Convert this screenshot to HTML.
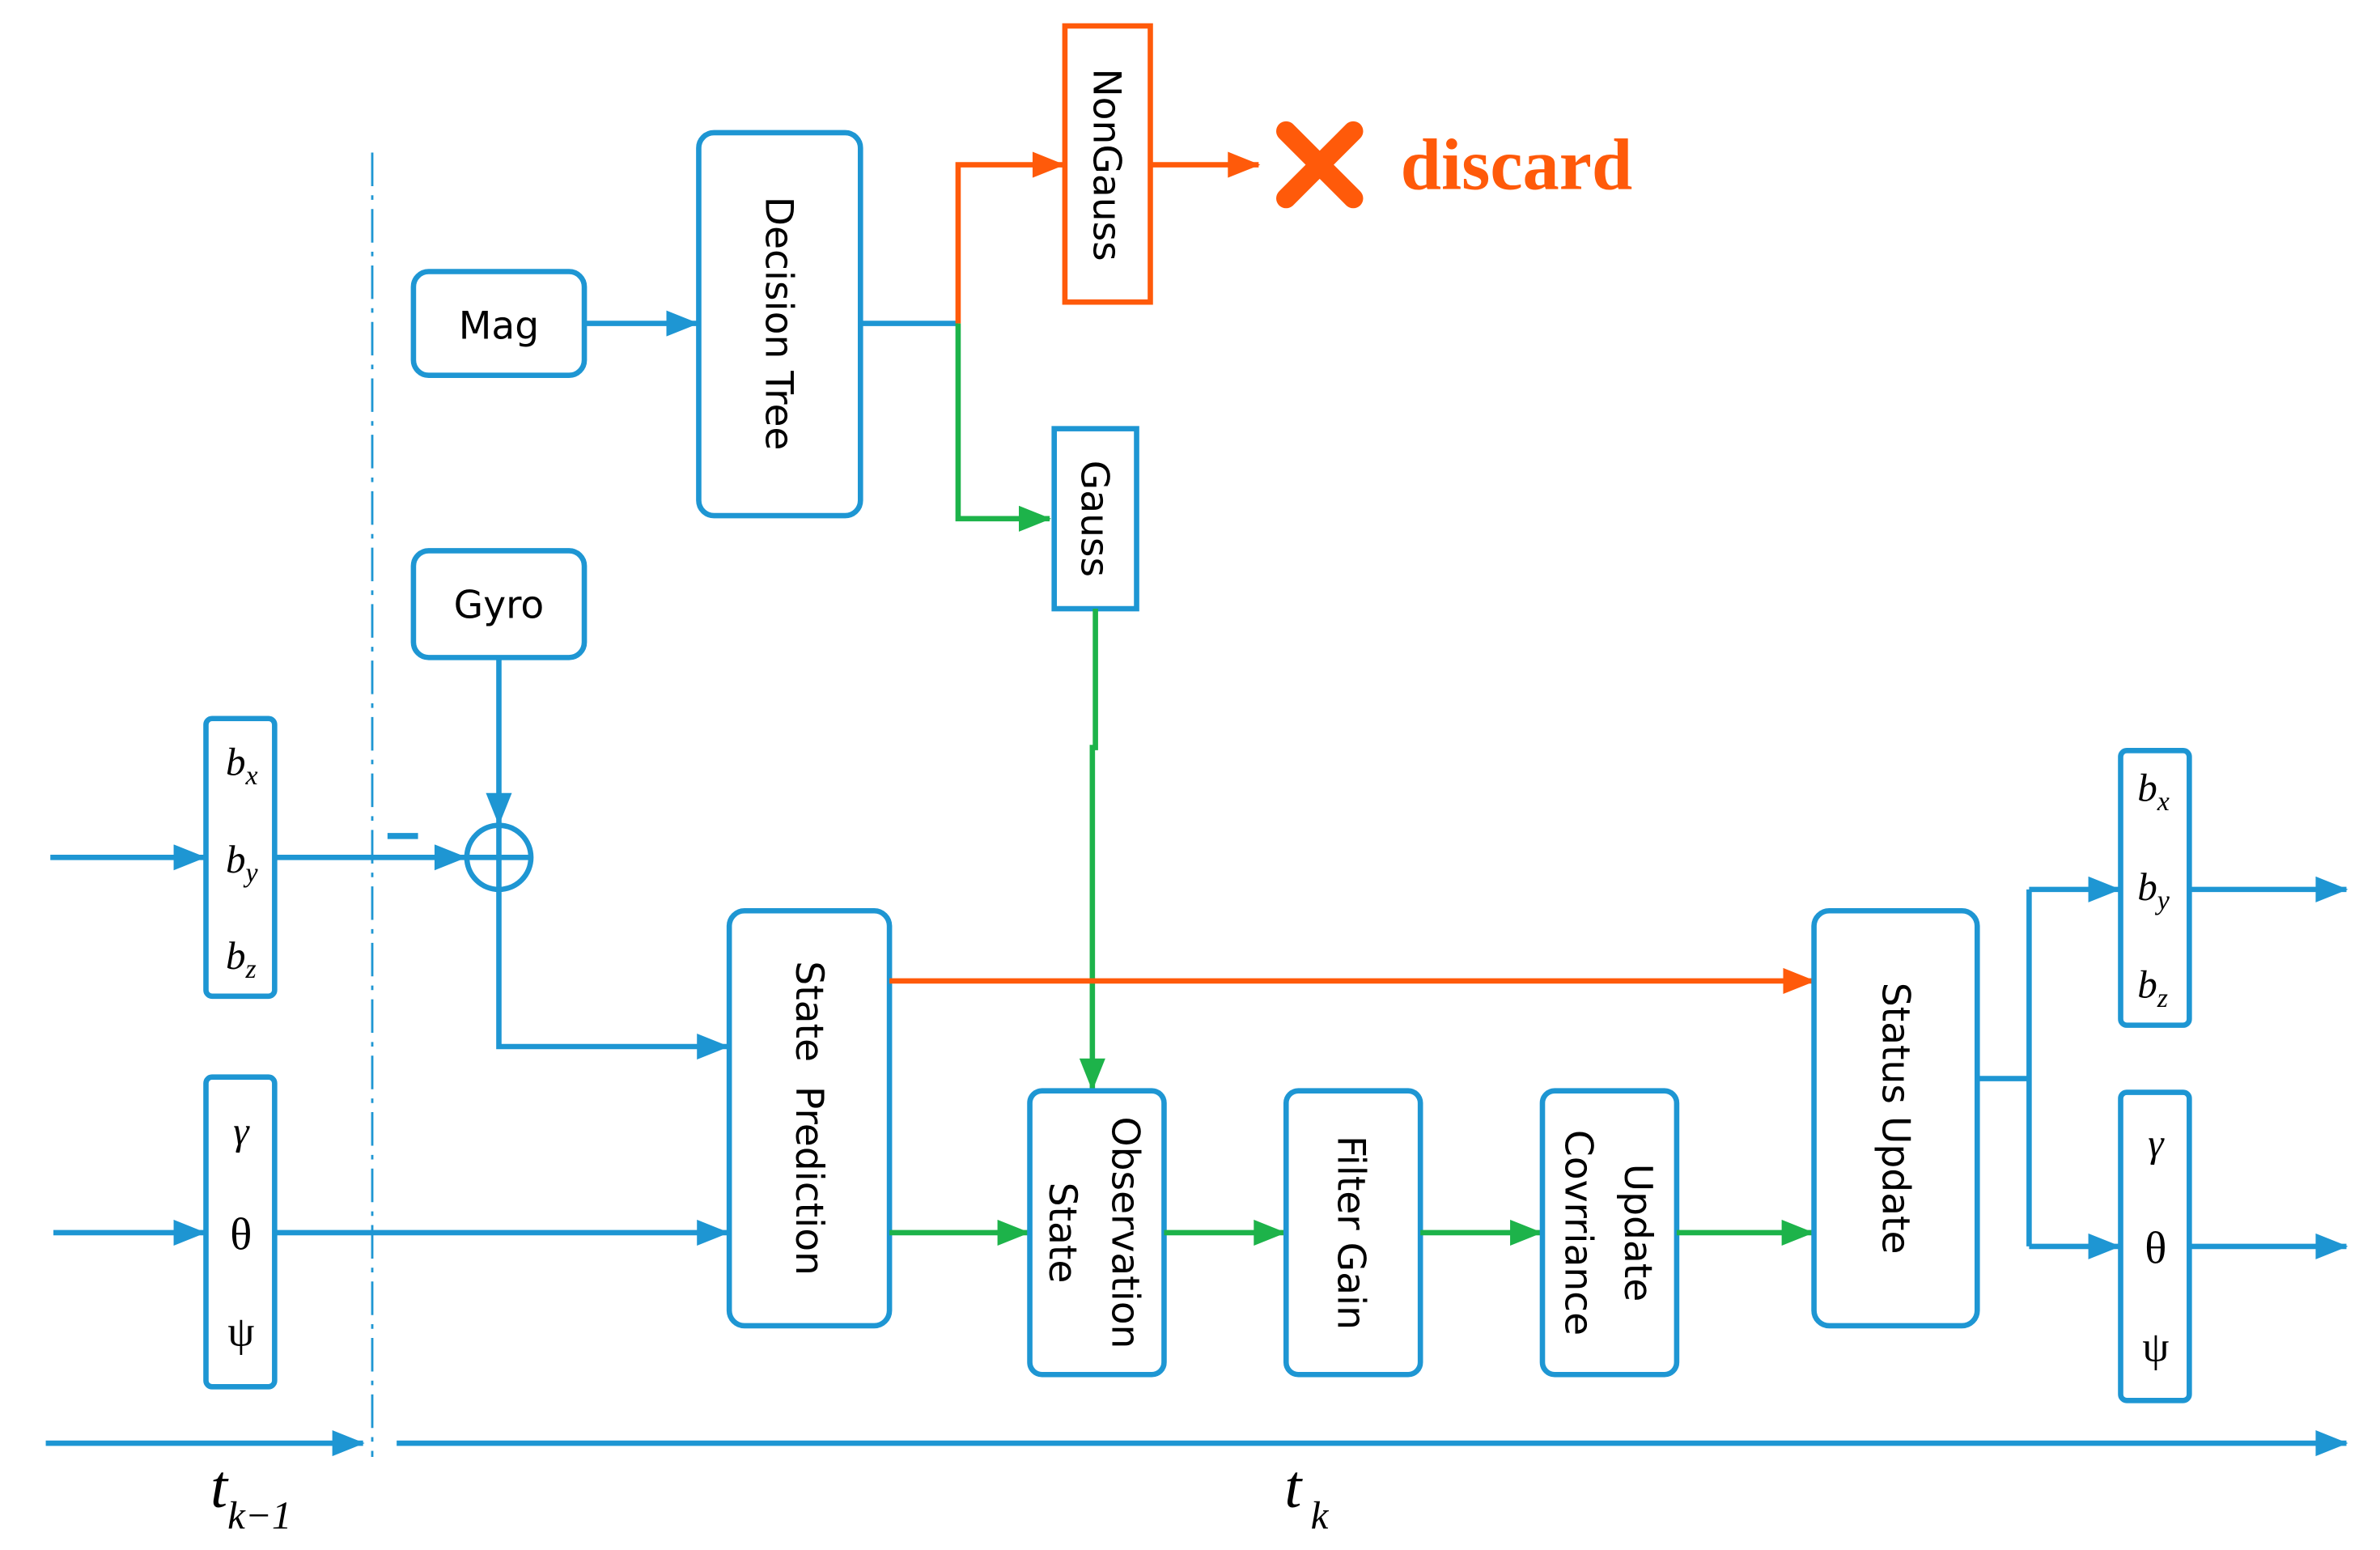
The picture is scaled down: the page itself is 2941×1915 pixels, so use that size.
<!DOCTYPE html>
<html><head><meta charset="utf-8"><style>html,body{margin:0;padding:0;background:#fff}svg{display:block}</style></head>
<body>
<svg width="2941" height="1915" viewBox="0 0 1560 1016" preserveAspectRatio="none" xmlns="http://www.w3.org/2000/svg">
<defs>
<marker id="ab" viewBox="0 0 10 8" markerWidth="24" markerHeight="17" refX="9.5" refY="4" orient="auto" markerUnits="userSpaceOnUse"><path d="M0,0 L10,4 L0,8z" fill="#1e96d3"/></marker>
<marker id="ao" viewBox="0 0 10 8" markerWidth="24" markerHeight="17" refX="9.5" refY="4" orient="auto" markerUnits="userSpaceOnUse"><path d="M0,0 L10,4 L0,8z" fill="#ff5a0a"/></marker>
<marker id="ag" viewBox="0 0 10 8" markerWidth="24" markerHeight="17" refX="9.5" refY="4" orient="auto" markerUnits="userSpaceOnUse"><path d="M0,0 L10,4 L0,8z" fill="#1db34a"/></marker>
</defs>
<style>
.b{stroke:#1e96d3;stroke-width:3.5;fill:none}
.o{stroke:#ff5a0a;stroke-width:3.5;fill:none}
.g{stroke:#1db34a;stroke-width:3.5;fill:none}
.bx{stroke:#1e96d3;stroke-width:3.5;fill:#fff}
.t{font-family:"DejaVu Sans","Liberation Sans",sans-serif;font-size:25px;fill:#000}
.m{font-family:"Liberation Serif",serif;font-style:italic;font-size:26px;fill:#000}
</style>
<line x1="244" y1="100" x2="244" y2="955" stroke="#1e96d3" stroke-width="1.5" stroke-dasharray="22,6,3,6"/>
<rect class="bx" x="271" y="178" width="112" height="68" rx="10"/>
<text class="t" x="327" y="222" text-anchor="middle">Mag</text>
<rect class="bx" x="458" y="87" width="106" height="251" rx="10"/>
<text class="t" transform="translate(502,212) rotate(90)" text-anchor="middle">Decision Tree</text>
<line class="b" x1="383" y1="212" x2="457" y2="212" marker-end="url(#ab)"/>
<polyline class="b" points="564,212 628,212"/>
<polyline class="o" points="628,212 628,108 697,108" marker-end="url(#ao)"/>
<polyline class="g" points="628,212 628,340 688,340" marker-end="url(#ag)"/>
<rect x="698" y="17" width="56" height="181" fill="#fff" stroke="#ff5a0a" stroke-width="3.5"/>
<text class="t" transform="translate(717,108) rotate(90)" text-anchor="middle">NonGauss</text>
<line class="o" x1="754" y1="108" x2="825" y2="108" marker-end="url(#ao)"/>
<path d="M843,86 L887,130 M887,86 L843,130" stroke="#ff5a0a" stroke-width="13" stroke-linecap="round"/>
<text x="918" y="124" font-family="Liberation Serif,serif" font-weight="bold" font-size="48" fill="#ff5a0a">discard</text>
<rect class="bx" x="691" y="281" width="54" height="118"/>
<text class="t" transform="translate(709,340) rotate(90)" text-anchor="middle">Gauss</text>
<polyline class="g" points="718,399 718,490 716,490 716,714" marker-end="url(#ag)"/>
<rect class="bx" x="271" y="361" width="112" height="70" rx="10"/>
<text class="t" x="327" y="405" text-anchor="middle">Gyro</text>
<line class="b" x1="327" y1="431" x2="327" y2="540" marker-end="url(#ab)"/>
<circle class="b" cx="327" cy="562" r="21"/>
<line class="b" x1="306" y1="562" x2="348" y2="562"/>
<line class="b" x1="327" y1="541" x2="327" y2="583"/>
<polyline class="b" points="327,583 327,686 477,686" marker-end="url(#ab)"/>
<rect class="bx" x="135" y="471" width="45" height="182" rx="4"/>
<text class="m" x="148" y="508">b<tspan font-size="18" dy="6">x</tspan></text>
<text class="m" x="148" y="572">b<tspan font-size="18" dy="6">y</tspan></text>
<text class="m" x="148" y="635">b<tspan font-size="18" dy="6">z</tspan></text>
<line class="b" x1="33" y1="562" x2="134" y2="562" marker-end="url(#ab)"/>
<line class="b" x1="180" y1="562" x2="305" y2="562" marker-end="url(#ab)"/>
<line x1="254" y1="548" x2="274" y2="548" stroke="#1e96d3" stroke-width="4"/>
<rect class="bx" x="135" y="706" width="45" height="203" rx="4"/>
<text class="m" x="158" y="750" text-anchor="middle">γ</text>
<text x="158" y="819" text-anchor="middle" font-family="Liberation Serif,serif" font-size="30">θ</text>
<text x="158" y="882" text-anchor="middle" font-family="Liberation Serif,serif" font-size="28">ψ</text>
<line class="b" x1="35" y1="808" x2="134" y2="808" marker-end="url(#ab)"/>
<line class="b" x1="180" y1="808" x2="477" y2="808" marker-end="url(#ab)"/>
<rect class="bx" x="478" y="597" width="105" height="272" rx="10"/>
<text class="t" transform="translate(522,733) rotate(90)" text-anchor="middle" xml:space="preserve">State  Prediction</text>
<line class="o" x1="583" y1="643" x2="1189" y2="643" marker-end="url(#ao)"/>
<line class="g" x1="583" y1="808" x2="674" y2="808" marker-end="url(#ag)"/>
<rect class="bx" x="675" y="715" width="88" height="186" rx="8"/>
<text class="t" transform="translate(729,808) rotate(90)" text-anchor="middle">Observation</text>
<text class="t" transform="translate(688,808) rotate(90)" text-anchor="middle">State</text>
<line class="g" x1="763" y1="808" x2="842" y2="808" marker-end="url(#ag)"/>
<rect class="bx" x="843" y="715" width="88" height="186" rx="8"/>
<text class="t" transform="translate(877,808) rotate(90)" text-anchor="middle">Filter Gain</text>
<line class="g" x1="931" y1="808" x2="1010" y2="808" marker-end="url(#ag)"/>
<rect class="bx" x="1011" y="715" width="88" height="186" rx="8"/>
<text class="t" transform="translate(1065,808) rotate(90)" text-anchor="middle">Update</text>
<text class="t" transform="translate(1026,808) rotate(90)" text-anchor="middle">Covrriance</text>
<line class="g" x1="1099" y1="808" x2="1188" y2="808" marker-end="url(#ag)"/>
<rect class="bx" x="1189" y="597" width="107" height="272" rx="10"/>
<text class="t" transform="translate(1234,733) rotate(90)" text-anchor="middle">Status Update</text>
<polyline class="b" points="1296,707 1330,707"/>
<polyline class="b" points="1330,583 1330,817"/>
<line class="b" x1="1330" y1="583" x2="1389" y2="583" marker-end="url(#ab)"/>
<line class="b" x1="1330" y1="817" x2="1389" y2="817" marker-end="url(#ab)"/>
<rect class="bx" x="1390" y="492" width="45" height="180" rx="4"/>
<text class="m" x="1401" y="525">b<tspan font-size="18" dy="6">x</tspan></text>
<text class="m" x="1401" y="590">b<tspan font-size="18" dy="6">y</tspan></text>
<text class="m" x="1401" y="654">b<tspan font-size="18" dy="6">z</tspan></text>
<rect class="bx" x="1390" y="716" width="45" height="202" rx="4"/>
<text class="m" x="1413" y="758" text-anchor="middle">γ</text>
<text x="1413" y="828" text-anchor="middle" font-family="Liberation Serif,serif" font-size="30">θ</text>
<text x="1413" y="892" text-anchor="middle" font-family="Liberation Serif,serif" font-size="28">ψ</text>
<line class="b" x1="1435" y1="583" x2="1538" y2="583" marker-end="url(#ab)"/>
<line class="b" x1="1435" y1="817" x2="1538" y2="817" marker-end="url(#ab)"/>
<line class="b" x1="30" y1="946" x2="238" y2="946" marker-end="url(#ab)"/>
<line class="b" x1="260" y1="946" x2="1538" y2="946" marker-end="url(#ab)"/>
<text x="138" y="988" font-family="Liberation Serif,serif" font-style="italic" font-size="40">t<tspan font-size="26" dy="14">k−1</tspan></text>
<text x="842" y="988" font-family="Liberation Serif,serif" font-style="italic" font-size="40">t<tspan font-size="26" dy="14" dx="6">k</tspan></text>
</svg>
</body></html>
